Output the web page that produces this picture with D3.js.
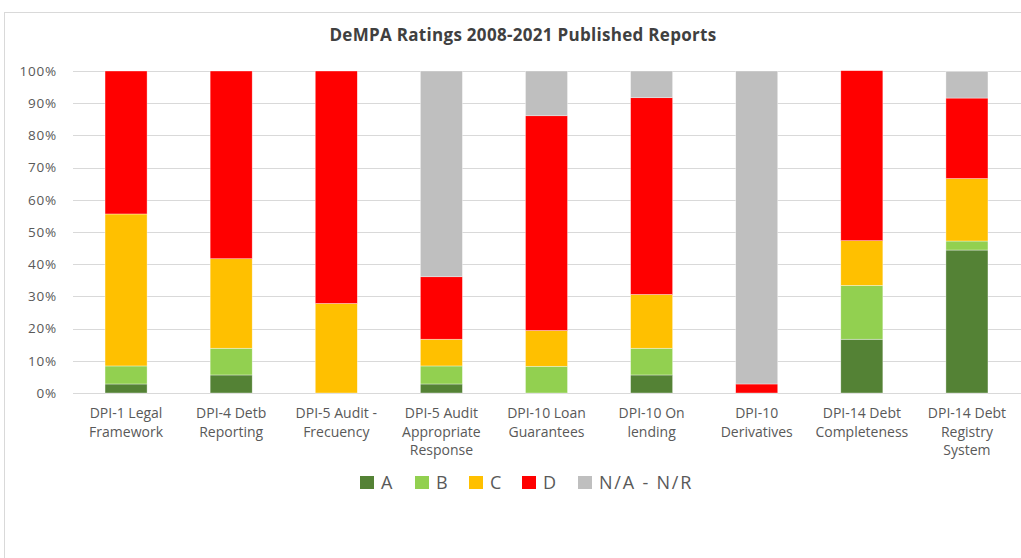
<!DOCTYPE html>
<html>
<head>
<meta charset="utf-8">
<script src="https://cdn.jsdelivr.net/npm/d3@7"></script>
<style>
  body { margin: 0; background: #fff; }
  svg { display: block; font-family: "Open Sans", sans-serif; }
</style>
</head>
<body>
<svg width="1021" height="558"></svg>
<script>
// categories, one per bar (label lines split by "|")
var categories = [
    "DPI-1 Legal|Framework",
    "DPI-4 Detb|Reporting",
    "DPI-5 Audit -|Frecuency",
    "DPI-5 Audit|Appropriate|Response",
    "DPI-10 Loan|Guarantees",
    "DPI-10 On|lending",
    "DPI-10|Derivatives",
    "DPI-14 Debt|Completeness",
    "DPI-14 Debt|Registry|System"
];

// share of ratings per category (percent)
var ratingA = [2.8, 5.6, 0, 2.8, 0, 5.6, 0, 16.7, 44.4];
var ratingB = [5.6, 8.3, 0, 5.6, 8.3, 8.3, 0, 16.7, 2.8];
var ratingC = [47.2, 27.8, 27.8, 8.3, 11.1, 16.7, 0, 13.9, 19.4];
var ratingD = [44.4, 58.3, 72.2, 19.4, 66.7, 61.1, 2.8, 52.8, 25.0];
var ratingNA = [0, 0, 0, 63.9, 13.9, 8.3, 97.2, 0, 8.3];

var seriesNames = ["A", "B", "C", "D", "N/A - N/R"];
var seriesColors = ["#548235", "#92d050", "#ffc000", "#ff0000", "#bfbfbf"];
var yTicks = [0, 10, 20, 30, 40, 50, 60, 70, 80, 90, 100];

var rows = categories.map((c, i) => ({
    cat: c,
    "A": ratingA[i],
    "B": ratingB[i],
    "C": ratingC[i],
    "D": ratingD[i],
    "N/A - N/R": ratingNA[i]
}));

var svg = d3.select("svg");

// chart frame
svg.append("rect")
    .attr("x", 4.5).attr("y", 12.5)
    .attr("width", 1100).attr("height", 700)
    .attr("fill", "none")
    .attr("stroke", "#d9d9d9");

svg.append("text")
    .attr("x", 523).attr("y", 41)
    .attr("text-anchor", "middle")
    .attr("font-size", 17)
    .attr("font-weight", "bold")
    .attr("letter-spacing", 0.3)
    .attr("fill", "#404040")
    .text("DeMPA Ratings 2008-2021 Published Reports");

var x = d3.scaleBand()
    .domain(categories)
    .range([73.5, 1019.5])
    .paddingInner(0.6)
    .paddingOuter(0.3);

var y = d3.scaleLinear()
    .domain([0, 100])
    .range([393, 71]);

// gridlines
svg.append("g")
    .selectAll("line")
    .data(yTicks)
    .enter()
    .append("line")
    .attr("x1", 73).attr("x2", 1021)
    .attr("y1", d => Math.round(y(d)) + 0.5)
    .attr("y2", d => Math.round(y(d)) + 0.5)
    .attr("stroke", "#d9d9d9")
    .attr("stroke-width", 1);

// y axis labels
var yAxis = d3.axisLeft(y)
    .tickValues(yTicks)
    .tickFormat(d => d + "%")
    .tickSize(0)
    .tickPadding(0);

svg.append("g")
    .attr("transform", "translate(57,0)")
    .call(yAxis)
    .call(g => g.select(".domain").remove())
    .selectAll("text")
    .attr("font-family", "Open Sans")
    .attr("font-size", 13.5)
    .attr("letter-spacing", 0.8)
    .attr("fill", "#595959");

var stack = d3.stack().keys(seriesNames);
var layers = stack(rows);

svg.append("g")
    .selectAll("g")
    .data(layers)
    .enter()
    .append("g")
    .attr("fill", (d, i) => seriesColors[i])
    .selectAll("rect")
    .data(d => d.filter(s => s[1] - s[0] > 0))
    .enter()
    .append("rect")
    .attr("x", d => x(d.data.cat))
    .attr("width", x.bandwidth())
    .attr("y", d => y(d[1]))
    .attr("height", d => y(d[0]) - y(d[1]))
    .attr("stroke", "#ffffff")
    .attr("stroke-opacity", 0.6)
    .attr("stroke-width", 0.6);

// x labels
var labels = svg.append("g")
    .selectAll("text")
    .data(categories)
    .enter()
    .append("text")
    .attr("text-anchor", "middle")
    .attr("font-size", 14)
    .attr("fill", "#595959");

labels.selectAll("tspan")
    .data(d => d.split("|").map(t => ({ t: t, c: d })))
    .enter()
    .append("tspan")
    .attr("x", d => x(d.c) + x.bandwidth() / 2)
    .attr("y", (d, i) => 418 + i * 18.5)
    .text(d => d.t);

// legend
var legendX = [360, 415, 469, 522, 578];
var legend = svg.append("g")
    .selectAll("g")
    .data(seriesNames)
    .enter()
    .append("g")
    .attr("transform", (d, i) => "translate(" + legendX[i] + ",476)");

legend.append("rect")
    .attr("width", 14).attr("height", 13)
    .attr("fill", (d, i) => seriesColors[i]);

legend.append("text")
    .attr("x", 21).attr("y", 13)
    .attr("font-size", 18)
    .attr("letter-spacing", 1.8)
    .attr("fill", "#595959")
    .text(d => d);
</script>
</body>
</html>
